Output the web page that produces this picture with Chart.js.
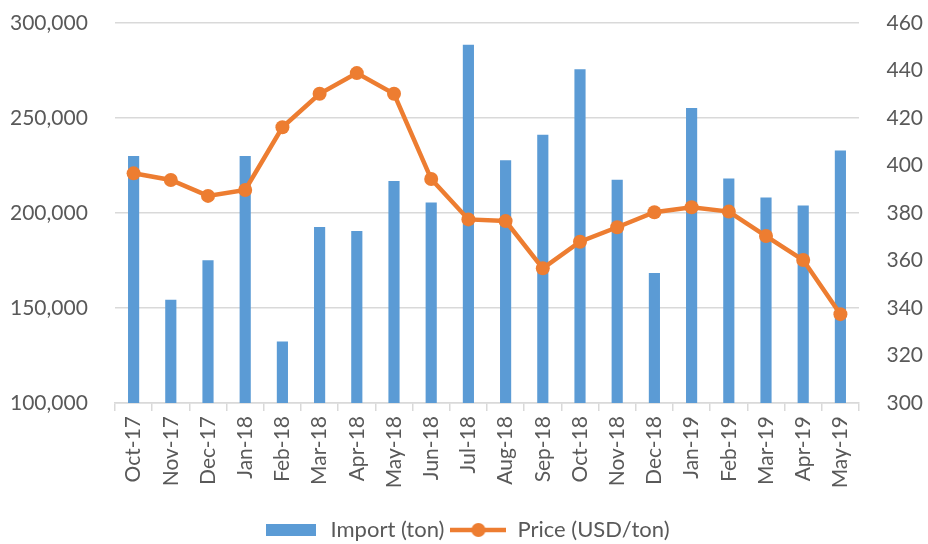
<!DOCTYPE html>
<html>
<head>
<meta charset="utf-8">
<script src="https://cdn.jsdelivr.net/npm/chart.js@4/dist/chart.umd.min.js"></script>
<style>
    html, body { margin: 0; padding: 0; background: #fff; }
    #wrap { width: 928px; height: 544px; }
</style>
</head>
<body>
<div id="wrap"><canvas id="chart"></canvas></div>
<script>
const months = ['Oct-17', 'Nov-17', 'Dec-17', 'Jan-18', 'Feb-18', 'Mar-18', 'Apr-18', 'May-18', 'Jun-18', 'Jul-18',
    'Aug-18', 'Sep-18', 'Oct-18', 'Nov-18', 'Dec-18', 'Jan-19', 'Feb-19', 'Mar-19', 'Apr-19', 'May-19'];
const importTon = [230000, 154400, 175100, 230000, 132400, 192600, 190500, 216800, 205500, 288600,
    227700, 241200, 275600, 217500, 168400, 255300, 218200, 208200, 204000, 232900];
const priceUsd = [396.7, 393.9, 387.2, 389.7, 416.1, 430.2, 438.9, 430.2, 394.3, 377.3,
    376.6, 356.7, 367.9, 374.0, 380.3, 382.4, 380.6, 370.3, 360.2, 337.4];

const BLUE = '#5B9BD5';
const ORANGE = '#ED7D31';
const GRID = '#D9D9D9';
const TEXT = '#595959';

// legend symbols drawn as small canvases
function barSymbol() {
    const c = document.createElement('canvas');
    c.width = 50; c.height = 12;
    const ctx = c.getContext('2d');
    ctx.fillStyle = BLUE;
    ctx.fillRect(0, 0, 50, 12);
    return c;
}

function lineSymbol() {
    const c = document.createElement('canvas');
    c.width = 56; c.height = 16;
    const ctx = c.getContext('2d');
    ctx.strokeStyle = ORANGE;
    ctx.lineWidth = 4.5;
    ctx.beginPath();
    ctx.moveTo(0, 8);
    ctx.lineTo(56, 8);
    ctx.stroke();
    ctx.fillStyle = ORANGE;
    ctx.beginPath();
    ctx.arc(28, 8, 7, 0, Math.PI * 2);
    ctx.fill();
    return c;
}

const symbols = [barSymbol(), lineSymbol()];

new Chart(document.getElementById('chart'), {
    data: {
        labels: months,
        datasets: [{
            type: 'bar',
            label: 'Import (ton)',
            data: importTon,
            yAxisID: 'y',
            backgroundColor: BLUE,
            categoryPercentage: 1,
            barPercentage: 0.3,
            order: 1
        }, {
            type: 'line',
            label: 'Price (USD/ton)',
            data: priceUsd,
            yAxisID: 'y1',
            borderColor: ORANGE,
            backgroundColor: ORANGE,
            borderWidth: 4.5,
            pointRadius: 7,
            pointBorderWidth: 0,
            pointBackgroundColor: ORANGE,
            tension: 0,
            order: 0
        }]
    },
    options: {
        responsive: true,
        maintainAspectRatio: false,
        animation: false,
        layout: {
            padding: {top: 23, left: 10, right: 5, bottom: -7}
        },
        plugins: {
            tooltip: {enabled: false},
            legend: {
                display: true,
                position: 'bottom',
                labels: {
                    usePointStyle: true,
                    pointStyleWidth: 56,
                    padding: 6,
                    color: TEXT,
                    font: {family: 'Lato', size: 22},
                    generateLabels: chart => chart.data.datasets.map((ds, i) => ({
                        text: ds.label,
                        fillStyle: i === 0 ? BLUE : ORANGE,
                        strokeStyle: i === 0 ? BLUE : ORANGE,
                        lineWidth: 0,
                        hidden: false,
                        datasetIndex: i,
                        pointStyle: symbols[i],
                        fontColor: TEXT
                    }))
                }
            }
        },
        scales: {
            x: {
                afterFit: scale => { scale.height = 110; },
                grid: {
                    display: true,
                    drawOnChartArea: false,
                    drawTicks: true,
                    tickLength: 8,
                    color: GRID,
                    lineWidth: 1.5
                },
                border: {display: true, color: GRID, width: 1.5},
                ticks: {
                    color: TEXT,
                    font: {family: 'Lato', size: 21},
                    minRotation: 90,
                    maxRotation: 90,
                    autoSkip: false,
                    padding: 5
                }
            },
            y: {
                position: 'left',
                min: 100000,
                max: 300000,
                afterFit: scale => { scale.width = 105; },
                grid: {color: GRID, lineWidth: 1.5, drawTicks: false},
                border: {display: false},
                ticks: {
                    stepSize: 50000,
                    color: TEXT,
                    font: {family: 'Lato', size: 21},
                    padding: 0,
                    crossAlign: 'far',
                    callback: v => v.toLocaleString('en-US')
                }
            },
            y1: {
                position: 'right',
                min: 300,
                max: 460,
                afterFit: scale => { scale.width = 64; },
                grid: {display: false, drawOnChartArea: false},
                border: {display: false},
                ticks: {
                    stepSize: 20,
                    color: TEXT,
                    font: {family: 'Lato', size: 21},
                    padding: 0,
                    crossAlign: 'far'
                }
            }
        }
    }
});
</script>
</body>
</html>
